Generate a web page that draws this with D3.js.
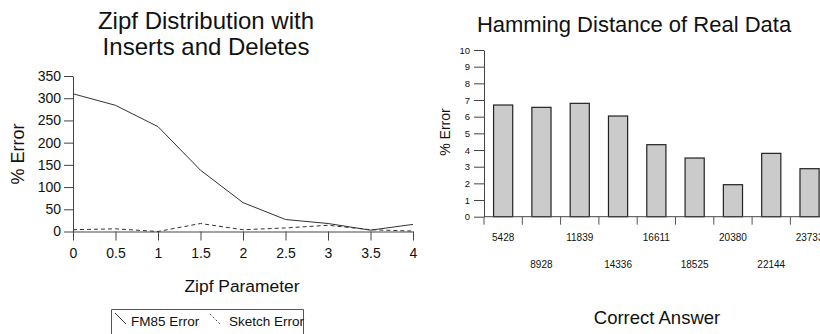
<!DOCTYPE html>
<html>
<head>
<meta charset="utf-8">
<script src="https://cdn.jsdelivr.net/npm/d3@7"></script>
<style>
  body { margin: 0; background: #fff; }
  svg { display: block; font-family: "Liberation Sans", Arial, sans-serif; }
</style>
</head>
<body>
<svg id="chart" width="820" height="334"></svg>
<script>
// left panel: zipf parameter vs % error
const zipfParams = [0, 0.5, 1, 1.5, 2, 2.5, 3, 3.5, 4];
const fm85Error = [310, 284, 236, 138, 65, 27, 18, 3, 16];
const sketchError = [4, 6, 0, 18, 4, 8, 14, 4, 1];
const leftYTicks = [0, 50, 100, 150, 200, 250, 300, 350];

// right panel: hamming distance bars
const correctAnswers = ['5428', '8928', '11839', '14336', '16611', '18525', '20380', '22144', '23733'];
const hammingError = [6.7, 6.56, 6.8, 6.04, 4.32, 3.52, 1.92, 3.8, 2.88];
const rightYTicks = [0, 1, 2, 3, 4, 5, 6, 7, 8, 9, 10];

const svg = d3.select('#chart');
const ink = '#222';

// ---------- left chart ----------
const x1 = d3.scaleLinear().domain([0, 4]).range([73, 413]);
const y1 = d3.scaleLinear().domain([0, 350]).range([231.5, 76]);

const left = svg.append('g').attr('class', 'left');

left.append('text')
  .attr('x', 206).attr('y', 29)
  .attr('text-anchor', 'middle').attr('font-size', 24).attr('fill', '#111')
  .text('Zipf Distribution with');
left.append('text')
  .attr('x', 206).attr('y', 55)
  .attr('text-anchor', 'middle').attr('font-size', 24).attr('fill', '#111')
  .text('Inserts and Deletes');

const yAx1 = left.append('g')
  .attr('transform', 'translate(73,0)')
  .call(d3.axisLeft(y1).tickValues(leftYTicks).tickSize(9).tickPadding(3).tickSizeOuter(0));
const xAx1 = left.append('g')
  .attr('transform', 'translate(0,231.5)')
  .call(d3.axisBottom(x1).tickValues(zipfParams).tickFormat(d3.format('')).tickSize(9).tickPadding(8).tickSizeOuter(0));

[yAx1, xAx1].forEach(a => {
  a.selectAll('path, line').attr('stroke', '#444');
  a.selectAll('text').attr('font-size', 14).attr('fill', '#111').attr('font-family', '"Liberation Sans", Arial, sans-serif');
});

left.append('text')
  .attr('transform', 'translate(24,154) rotate(-90)')
  .attr('text-anchor', 'middle').attr('font-size', 18).attr('fill', '#111')
  .text('% Error');

left.append('text')
  .attr('x', 242).attr('y', 292)
  .attr('text-anchor', 'middle').attr('font-size', 17.4).attr('fill', '#111')
  .text('Zipf Parameter');

const line1 = d3.line().x((d, i) => x1(zipfParams[i])).y(d => y1(d));

left.append('path')
  .datum(sketchError)
  .attr('d', line1)
  .attr('fill', 'none').attr('stroke', '#333').attr('stroke-width', 1)
  .attr('stroke-dasharray', '4,3');
left.append('path')
  .datum(fm85Error)
  .attr('d', line1)
  .attr('fill', 'none').attr('stroke', '#333').attr('stroke-width', 1);

// legend
const legend = left.append('g');
legend.append('path')
  .attr('d', 'M111.5,340 V309.5 H303.5 V340')
  .attr('fill', 'none').attr('stroke', '#555').attr('stroke-width', 1);
legend.append('line')
  .attr('x1', 115).attr('y1', 313).attr('x2', 126).attr('y2', 324)
  .attr('stroke', '#333');
legend.append('text')
  .attr('x', 131).attr('y', 326).attr('font-size', 13.5).attr('fill', '#111')
  .text('FM85 Error');
legend.append('line')
  .attr('x1', 210).attr('y1', 314).attr('x2', 221).attr('y2', 325)
  .attr('stroke', '#555').attr('stroke-dasharray', '2,2');
legend.append('text')
  .attr('x', 229).attr('y', 326).attr('font-size', 13.5).attr('fill', '#111')
  .text('Sketch Error');

// ---------- right chart ----------
const step = 38.3;
const x2 = d3.scaleBand().domain(correctAnswers)
  .range([484, 484 + step * correctAnswers.length])
  .paddingInner(0.5).paddingOuter(0.25);
const y2 = d3.scaleLinear().domain([0, 10]).range([216.7, 50]);

const right = svg.append('g').attr('class', 'right');

right.append('text')
  .attr('x', 634).attr('y', 32)
  .attr('text-anchor', 'middle').attr('font-size', 22).attr('fill', '#111')
  .text('Hamming Distance of Real Data');

right.selectAll('.bar')
  .data(hammingError)
  .enter().append('rect')
  .attr('class', 'bar')
  .attr('x', (d, i) => x2(correctAnswers[i]))
  .attr('y', d => y2(d))
  .attr('width', x2.bandwidth())
  .attr('height', d => y2(0) - y2(d))
  .attr('fill', '#cbcbcb').attr('stroke', ink).attr('stroke-width', 1.2);

const yAx2 = right.append('g')
  .attr('transform', 'translate(484,0)')
  .call(d3.axisLeft(y2).tickValues(rightYTicks).tickSize(10).tickPadding(4).tickSizeOuter(0));
yAx2.selectAll('path, line').attr('stroke', '#444');
yAx2.selectAll('text').attr('font-size', 9.5).attr('fill', '#111');

// x axis: baseline, boundary ticks, staggered labels
const xAx2 = right.append('g');
xAx2.append('line')
  .attr('x1', 484).attr('x2', 820).attr('y1', y2(0)).attr('y2', y2(0))
  .attr('stroke', '#444');
xAx2.selectAll('.tick')
  .data(correctAnswers)
  .enter().append('line')
  .attr('x1', d => x2(d) - x2.step() * 0.25).attr('x2', d => x2(d) - x2.step() * 0.25)
  .attr('y1', y2(0)).attr('y2', y2(0) + 8)
  .attr('stroke', '#555');
xAx2.selectAll('.lbl')
  .data(correctAnswers)
  .enter().append('text')
  .attr('x', d => x2(d) + x2.bandwidth() / 2)
  .attr('y', (d, i) => i % 2 === 0 ? 241 : 268)
  .attr('text-anchor', 'middle').attr('font-size', 10).attr('fill', '#111')
  .text(d => d);

right.append('text')
  .attr('transform', 'translate(450,132) rotate(-90)')
  .attr('text-anchor', 'middle').attr('font-size', 14).attr('fill', '#111')
  .text('% Error');

right.append('text')
  .attr('x', 657).attr('y', 324)
  .attr('text-anchor', 'middle').attr('font-size', 18.5).attr('fill', '#111')
  .text('Correct Answer');
</script>
</body>
</html>
